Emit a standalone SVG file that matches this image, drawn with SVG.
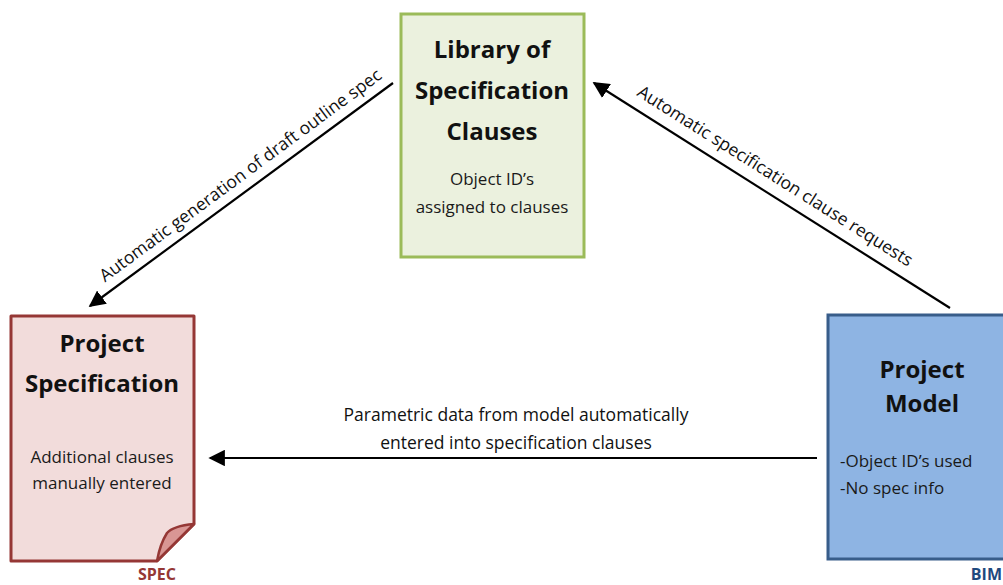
<svg xmlns="http://www.w3.org/2000/svg" width="1003" height="585" viewBox="0 0 1003 585">
<style>
.t{font-family:"Open Sans","Noto Sans",sans-serif;fill:#1a1a1a;text-anchor:middle}
.h{font-size:24px;font-weight:bold;fill:#111}
.b{font-size:17px}
.l{font-family:"Open Sans","Noto Sans",sans-serif;fill:#111;text-anchor:middle}
.conn{stroke:#000;stroke-width:2.2;fill:none;marker-end:url(#ah)}
.tag{font-family:"Open Sans","Noto Sans",sans-serif;font-size:16px;font-weight:bold}
</style>
<defs>
<marker id="ah" viewBox="0 0 10 10" refX="9" refY="5" markerWidth="7.5" markerHeight="7.5" markerUnits="strokeWidth" orient="auto">
<path d="M0,0 L10,5 L0,10 Z" fill="#000"/>
</marker>
</defs>
<rect width="1003" height="585" fill="#fff"/>
<g id="library">
<rect x="401" y="14" width="183" height="243" fill="#ebf1de" stroke="#9bbb59" stroke-width="3"/>
<text class="t h" x="492" y="58">Library of</text>
<text class="t h" x="492" y="99">Specification</text>
<text class="t h" x="492" y="140">Clauses</text>
<text class="t b" x="492" y="185">Object ID’s</text>
<text class="t b" x="492" y="213">assigned to clauses</text>
</g>
<g id="spec">
<path d="M11,316 H194 V524 L157,561 H11 Z" fill="#f2dcdb" stroke="#953735" stroke-width="3" stroke-linejoin="round"/>
<path d="M194,524 Q173,526 167,533 Q160,544 157,561 Z" fill="#d99694" stroke="#953735" stroke-width="2.5" stroke-linejoin="round"/>
<text class="t h" x="102" y="352">Project</text>
<text class="t h" x="102" y="392">Specification</text>
<text class="t b" x="102" y="463">Additional clauses</text>
<text class="t b" x="102" y="489">manually entered</text>
<text class="tag" x="157" y="580" fill="#953735" text-anchor="middle">SPEC</text>
</g>
<g id="model">
<rect x="828" y="315" width="190" height="244" fill="#8eb4e3" stroke="#385d8a" stroke-width="3"/>
<text class="t h" x="922" y="378">Project</text>
<text class="t h" x="922" y="412">Model</text>
<text class="t b" x="840" y="467" style="text-anchor:start">-Object ID’s used</text>
<text class="t b" x="840" y="494" style="text-anchor:start">-No spec info</text>
<text class="tag" x="1002" y="580" fill="#1f497d" text-anchor="end">BIM</text>
</g>
<g id="connectors">
<line class="conn" x1="393" y1="83" x2="90" y2="306"/>
<line class="conn" x1="950" y1="308" x2="594" y2="83"/>
<line class="conn" x1="817" y1="458" x2="210" y2="458"/>
<text class="l" font-size="17.5" transform="translate(244,180) rotate(-36.4)">Automatic generation of draft outline spec</text>
<text class="l" font-size="17.5" transform="translate(772,181) rotate(32.3)">Automatic specification clause requests</text>
<text class="l" font-size="17.5" x="516" y="421">Parametric data from model automatically</text>
<text class="l" font-size="17.5" x="516" y="449">entered into specification clauses</text>
</g>
</svg>
